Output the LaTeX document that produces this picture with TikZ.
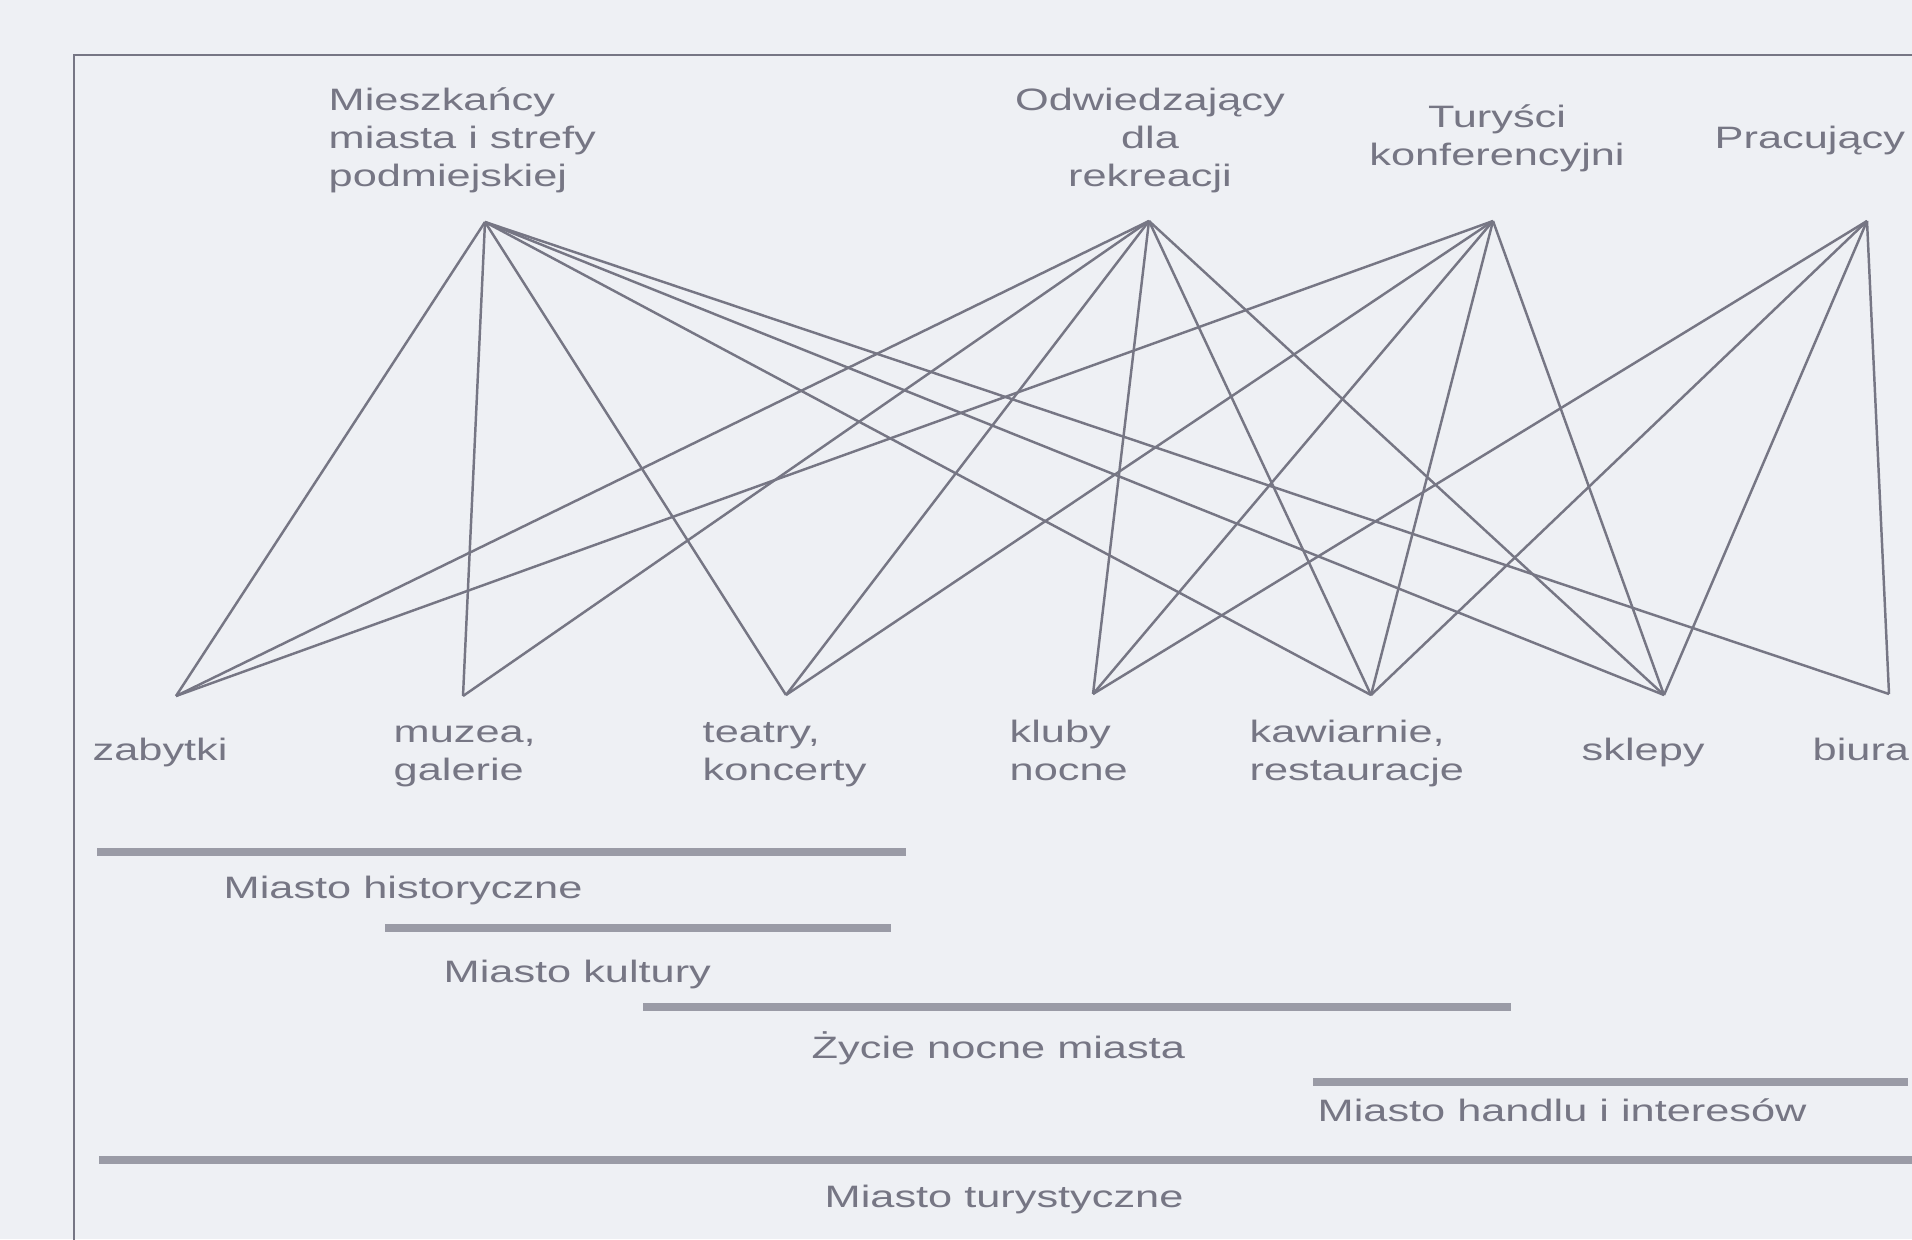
\documentclass[tikz,border=0pt]{standalone}
\usepackage{fontspec}
\setmainfont{Liberation Sans}[FakeStretch=1.4]
\definecolor{paper}{RGB}{238,240,244}
\definecolor{ink}{RGB}{118,118,132}
\colorlet{bandgray}{ink!70!paper}
\tikzset{
  tag/.style={text=ink, inner sep=0pt, font=\fontsize{8.8pt}{10.8pt}\selectfont},
  link/.style={draw=ink, line width=0.7pt},
  band/.style={draw=bandgray, line width=2.3pt},
}
% band with its caption: name, x from, x to, y, caption x, caption y, text
\newcommand{\cityband}[7]{%
  \draw[band] (#2,#4) -- (#3,#4);
  \node[tag, anchor=base west] (#1) at (#5,#6) {#7};}

\begin{document}
\begin{tikzpicture}[x=0.01cm, y=-0.01cm]
    \useasboundingbox (0,0) rectangle (1912,1239);
    \clip (0,0) rectangle (1912,1239);
    \fill[paper] (0,0) rectangle (1912,1239);
    \draw[ink, line width=0.8pt] (74,1300) -- (74,55) -- (1960,55);

    % groups of visitors (top); multi-line captions sit on their last line
    \coordinate (miesz) at (485,222);
    \coordinate (odwiedz) at (1149,221);
    \coordinate (turysci) at (1493,221);
    \coordinate (prac) at (1867,221);
    \node[tag, anchor=base west, align=left] (tmiesz) at (328,186) {Mieszkańcy\\miasta i strefy\\podmiejskiej};
    \node[tag, anchor=base, align=center] (todwiedz) at (1150,186) {Odwiedzający\\dla\\rekreacji};
    \node[tag, anchor=base, align=center] (tturysci) at (1497,165) {Turyści\\konferencyjni};
    \node[tag, anchor=base west] (tprac) at (1714,148) {Pracujący};

    % city attractions (bottom)
    \coordinate (zabytki) at (176,696);
    \coordinate (muzea) at (463,696);
    \coordinate (teatry) at (786,695);
    \coordinate (kluby) at (1093,694);
    \coordinate (kawiarnie) at (1371,695);
    \coordinate (sklepy) at (1664,695);
    \coordinate (biura) at (1889,694);
    \node[tag, anchor=base west] (tzabytki) at (92,760) {zabytki};
    \node[tag, anchor=base west, align=left] (tmuzea) at (393,780) {muzea,\\galerie};
    \node[tag, anchor=base west, align=left] (tteatry) at (702,780) {teatry,\\koncerty};
    \node[tag, anchor=base west, align=left] (tkluby) at (1009,780) {kluby\\nocne};
    \node[tag, anchor=base west, align=left] (tkawiarnie) at (1249,780) {kawiarnie,\\restauracje};
    \node[tag, anchor=base west] (tsklepy) at (1581,760) {sklepy};
    \node[tag, anchor=base west] (tbiura) at (1812,760) {biura};

    \foreach \g/\a in {miesz/zabytki, miesz/muzea, miesz/teatry, miesz/kawiarnie, miesz/sklepy, miesz/biura,
                       odwiedz/zabytki, odwiedz/muzea, odwiedz/teatry, odwiedz/kluby, odwiedz/kawiarnie, odwiedz/sklepy,
                       turysci/zabytki, turysci/teatry, turysci/kluby, turysci/kawiarnie, turysci/sklepy,
                       prac/kluby, prac/kawiarnie, prac/sklepy, prac/biura}
      { \draw[link] (\g) -- (\a); }

    % types of tourist city
    \cityband{hist}{97}{906}{852}{223}{898}{Miasto historyczne}
    \cityband{kult}{385}{891}{928}{443}{982}{Miasto kultury}
    \cityband{noc}{643}{1511}{1007}{811}{1058}{Życie nocne miasta}
    \cityband{handel}{1313}{1908}{1082}{1317}{1121}{Miasto handlu i interesów}
    \cityband{turyst}{99}{1950}{1160}{824}{1207}{Miasto turystyczne}
  \end{tikzpicture}
\end{document}
